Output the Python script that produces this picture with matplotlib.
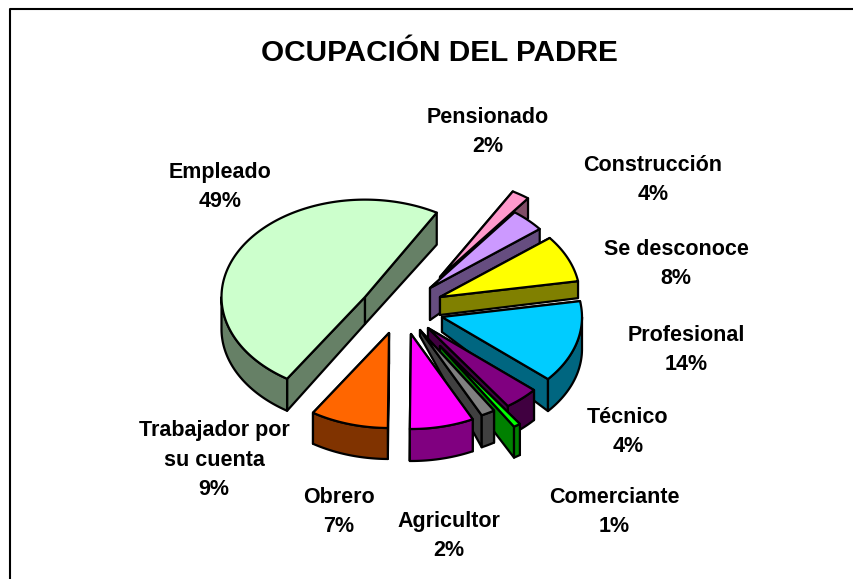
import numpy as np
import matplotlib
matplotlib.use("Agg")
import matplotlib.pyplot as plt
from matplotlib.patches import Polygon

TITLE = "OCUPACIÓN DEL PADRE"
categories = ["Pensionado", "Construcción", "Se desconoce", "Profesional", "Técnico",
              "Comerciante", "Agricultor", "Obrero", "Trabajador por\nsu cuenta", "Empleado"]
values = [2, 4, 8, 14, 4, 0.8, 1.6, 7.4, 9, 49.2]

top_colors = ["#FF99CC", "#CC99FF", "#FFFF00", "#00CCFF", "#800080",
              "#00FF00", "#808080", "#FF00FF", "#FF6600", "#CCFFCC"]
wall_colors = ["#804D66", "#664D80", "#808000", "#006680", "#400040",
               "#008000", "#404040", "#800080", "#803300", "#668066"]

# Layout: the pixel grid of the figure is used as the axes' scale
W, H, DPI = 854, 579, 100
START_ANGLE = 30
RX, RY = 140, 95
radius_scale = [1.04, 1.0, 1.0, 1.0, 1.0, 1.0, 1.0, 1.0, 1.0, 1.025]
# explode offset of every slice apex from the common pie centre
CENTRE = (415, 300)
explode = [(25, -23), (15, -12), (25, -3), (27, 17), (13, 28),
           (25, 46), (5, 30), (-4, 34), (-26, 33), (-50, -3)]
depth_apex = [7, 32, 18, 15, 15, 15, 6, 32, 31, 27]
depth_rim = [20, 15, 17, 32, 30, 31, 32, 32, 31, 32]
draw_order = [0, 1, 2, 9, 3, 4, 5, 6, 7, 8]
label_pos = [(488, 132), (653, 180), (676, 264), (686, 350), (628, 432),
             (614, 512), (449, 536), (339, 512), (214, 460), (220, 187)]
LINE_PX = 29.5

fig = plt.figure(figsize=(W / DPI, H / DPI), dpi=DPI)
ax = fig.add_axes([0, 0, 1, 1])
ax.set_xlim(0, W)
ax.set_ylim(H, 0)
ax.axis("off")

edges = np.cumsum([0] + values) / sum(values) * 360 + START_ANGLE


def rim_points(a0, a1, apex, s):
    t = np.radians(np.linspace(a0, a1, max(int(a1 - a0) + 2, 3)))
    return np.column_stack([apex[0] + s * RX * np.sin(t), apex[1] - s * RY * np.cos(t)])


def add_poly(pts, fc, z):
    ax.add_patch(Polygon(pts, closed=True, facecolor=fc, edgecolor="black",
                         linewidth=1.6, joinstyle="round", zorder=z))


for order, i in enumerate(draw_order):
    apex = np.array([CENTRE[0] + explode[i][0], CENTRE[1] + explode[i][1]], float)
    s = radius_scale[i]
    rim = rim_points(edges[i], edges[i + 1], apex, s)
    d0, d1 = depth_apex[i], depth_rim[i]
    z = order * 10
    low_rim = rim + [0, d1]
    low_apex = apex + [0, d0]
    # radial walls first, the rim wall hides their far parts, the top hides the rest
    add_poly(np.array([apex, rim[0], low_rim[0], low_apex]), wall_colors[i], z + 1)
    add_poly(np.array([apex, rim[-1], low_rim[-1], low_apex]), wall_colors[i], z + 1)
    # only the front half of the rim (90 to 270 degrees) shows a wall
    a0, a1 = max(edges[i], 90), min(edges[i + 1], 270)
    if a1 > a0:
        front = rim_points(a0, a1, apex, s)
        add_poly(np.vstack([front, front[::-1] + [0, d1]]), wall_colors[i], z + 2)
    add_poly(np.vstack([apex, rim]), top_colors[i], z + 3)

font = {"family": "Liberation Sans", "weight": "bold", "color": "black"}
for name, v, (x, y) in zip(categories, values, label_pos):
    lines = f"{name}\n{round(v)}%".split("\n")
    for k, line in enumerate(lines):
        ax.text(x, y + (k - (len(lines) - 1) / 2) * LINE_PX, line, ha="center", va="center",
                fontsize=15.5, **font)
ax.text(439, 53, TITLE, ha="center", va="center", fontsize=21.4, **font)

# chart frame: only the left and top edges fall inside the picture
ax.plot([10, 10, W], [H, 9, 9], color="black", lw=1.5, clip_on=False)

fig.savefig("out.png", dpi=DPI)
